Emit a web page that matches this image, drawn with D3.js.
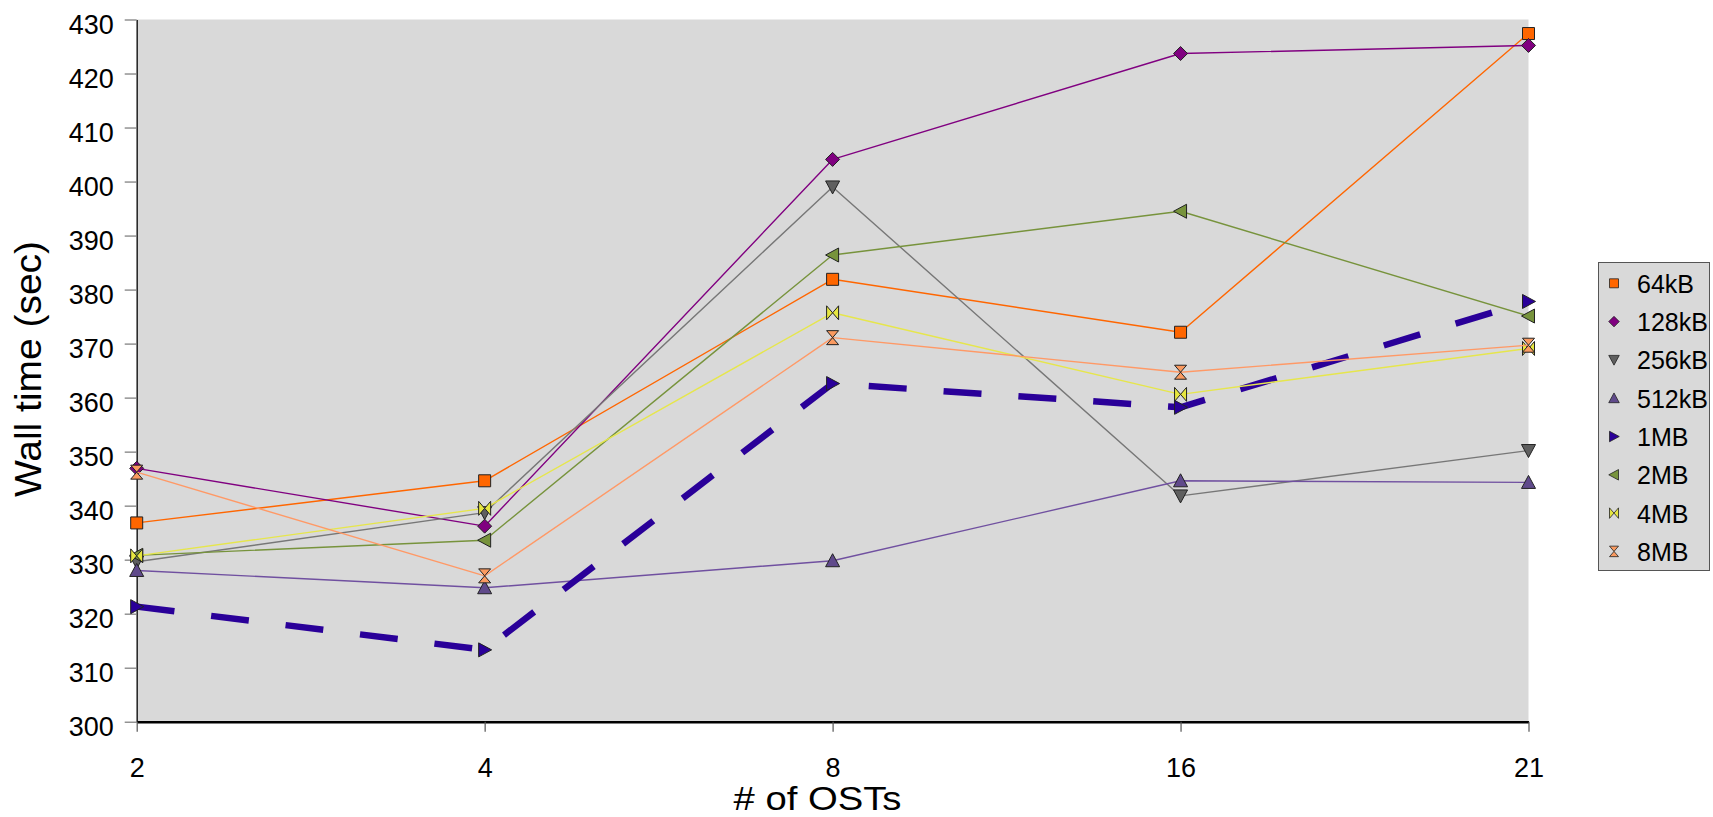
<!DOCTYPE html>
<html>
<head>
<meta charset="utf-8">
<script src="https://cdn.jsdelivr.net/npm/d3@7"></script>
<style>
  body { margin: 0; background: white; }
  text { font-family: "Liberation Sans", Arial, sans-serif; fill: #000; }
</style>
</head>
<body>
<div id="container"></div>
<script>
let w = 1713;
let h = 817;

// DATA
let categories = ["2", "4", "8", "16", "21"];
let seriesNames = ["64kB", "128kB", "256kB", "512kB", "1MB", "2MB", "4MB", "8MB"];
let s64kB  = [336.8, 344.6, 381.9, 372.1, 427.4];
let s128kB = [346.9, 336.2, 404.1, 423.7, 425.2];
let s256kB = [329.6, 338.7, 399.0, 341.8, 350.2];
let s512kB = [328.0, 324.8, 329.8, 344.6, 344.3];
let s1MB   = [321.3, 313.3, 362.6, 358.2, 377.8];
let s2MB   = [330.8, 333.6, 386.4, 394.5, 375.1];
let s4MB   = [330.7, 339.5, 375.7, 360.6, 369.1];
let s8MB   = [346.2, 327.0, 371.1, 364.7, 369.7];
let yTicks = [300, 310, 320, 330, 340, 350, 360, 370, 380, 390, 400, 410, 420, 430];

let lineColors   = ["#ff6600", "#800080", "#777777", "#7050a0", "#2a0099", "#77933c", "#e6e64c", "#ff9966"];
let markerFills  = ["#ff6600", "#800080", "#5f5f5f", "#604a8b", "#2a0099", "#77933c", "#e6e640", "#fa9a60"];
let markerShapes = ["square", "diamond", "triDown", "triUp", "triRight", "triLeft", "bowtie", "hourglass"];

let allSeries = [s64kB, s128kB, s256kB, s512kB, s1MB, s2MB, s4MB, s8MB];

function shapePath(type, k) {
  let s = function(v){ return v * k; };
  switch (type) {
    case "square":   return `M${s(-6)},${s(-6)}h${s(12)}v${s(12)}h${s(-12)}Z`;
    case "diamond":  return `M0,${s(-7)}L${s(7)},0L0,${s(7)}L${s(-7)},0Z`;
    case "triDown":  return `M${s(-7)},${s(-6)}L${s(7)},${s(-6)}L0,${s(7)}Z`;
    case "triUp":    return `M0,${s(-7)}L${s(7)},${s(6)}L${s(-7)},${s(6)}Z`;
    case "triRight": return `M${s(-6)},${s(-7)}L${s(7)},0L${s(-6)},${s(7)}Z`;
    case "triLeft":  return `M${s(6)},${s(-7)}L${s(-7)},0L${s(6)},${s(7)}Z`;
    case "bowtie":   return `M${s(-6)},${s(-7)}L0,0L${s(-6)},${s(7)}ZM${s(6)},${s(-7)}L0,0L${s(6)},${s(7)}Z`;
    case "hourglass":return `M${s(-6)},${s(-7)}L${s(6)},${s(-7)}L0,0ZM${s(-6)},${s(7)}L${s(6)},${s(7)}L0,0Z`;
  }
}

// SVG
let viz = d3.select("#container").append("svg")
    .attr("width", w)
    .attr("height", h)
    .style("display", "block")
;

// SCALES
let xScale = d3.scalePoint().domain(categories).range([136.7, 1528.5]);
let yScale = d3.scaleLinear().domain([300, 430]).range([721.7, 19.5]);

// plot area background
viz.append("rect")
    .attr("x", xScale("2"))
    .attr("y", yScale(430))
    .attr("width", xScale("21") - xScale("2"))
    .attr("height", yScale(300) - yScale(430))
    .attr("fill", "#d9d9d9")
;

// Y AXIS
let yAxis = d3.axisLeft(yScale).tickValues(yTicks).tickSize(12).tickSizeOuter(0).tickPadding(11);
let yG = viz.append("g").attr("transform", `translate(${xScale("2")},0)`).call(yAxis);
yG.select(".domain").attr("stroke", "#222").attr("stroke-width", 1.5);
yG.selectAll(".tick line").attr("stroke", "#777").attr("stroke-width", 1.2);
yG.selectAll(".tick text")
    .attr("font-size", 27)
    .attr("dy", "0.5em")
    .style("font-family", "'Liberation Sans', Arial, sans-serif")
    .attr("fill", "#000");

// X AXIS
let xAxis = d3.axisBottom(xScale).tickSize(10).tickSizeOuter(0).tickPadding(26);
let xG = viz.append("g").attr("transform", `translate(0,${yScale(300)})`).call(xAxis);
xG.select(".domain").attr("stroke", "#000").attr("stroke-width", 2.5);
xG.selectAll(".tick line").attr("stroke", "#555").attr("stroke-width", 1.2);
xG.selectAll(".tick text")
    .attr("font-size", 27)
    .style("font-family", "'Liberation Sans', Arial, sans-serif")
    .attr("fill", "#000");

// AXIS TITLES
viz.append("text")
    .attr("x", 817.5)
    .attr("y", 810)
    .attr("text-anchor", "middle")
    .attr("font-size", 33)
    .attr("textLength", 168)
    .attr("lengthAdjust", "spacingAndGlyphs")
    .text("# of OSTs");

viz.append("text")
    .attr("transform", `translate(41,369) rotate(-90)`)
    .attr("text-anchor", "middle")
    .attr("font-size", 37)
    .attr("textLength", 256)
    .attr("lengthAdjust", "spacingAndGlyphs")
    .text("Wall time (sec)");

// LINES + MARKERS
let lineMaker = d3.line()
    .x(function(d, i){ return xScale(categories[i]); })
    .y(function(d){ return yScale(d); })
;

allSeries.forEach(function(vals, si){
  let g = viz.append("g").attr("class", "series");
  let isMain = seriesNames[si] == "1MB";
  g.append("path")
      .attr("d", lineMaker(vals))
      .attr("fill", "none")
      .attr("stroke", lineColors[si])
      .attr("stroke-width", isMain ? 6.5 : 1.4)
      .attr("stroke-dasharray", isMain ? "38,37" : null)
      .attr("stroke-linejoin", "round")
  ;
  g.selectAll(".mk").data(vals).enter()
    .append("path")
      .attr("class", "mk")
      .attr("transform", function(d, i){ return `translate(${xScale(categories[i])},${yScale(d)})`; })
      .attr("d", shapePath(markerShapes[si], 1))
      .attr("fill", markerFills[si])
      .attr("stroke", "#222")
      .attr("stroke-width", 1)
  ;
});

// LEGEND
let legend = viz.append("g").attr("class", "legend");
legend.append("rect")
    .attr("x", 1598.5)
    .attr("y", 262.5)
    .attr("width", 111)
    .attr("height", 308)
    .attr("fill", "#d9d9d9")
    .attr("stroke", "#555")
    .attr("stroke-width", 1)
;
seriesNames.forEach(function(name, i){
  let cy = 283.3 + i * 38.3;
  legend.append("path")
      .attr("transform", `translate(1614,${cy})`)
      .attr("d", shapePath(markerShapes[i], 0.75))
      .attr("fill", markerFills[i])
      .attr("stroke", "#222")
      .attr("stroke-width", 0.8);
  legend.append("text")
      .attr("x", 1637)
      .attr("y", cy + 9.5)
      .attr("font-size", 25)
      .text(name);
});
</script>
</body>
</html>
